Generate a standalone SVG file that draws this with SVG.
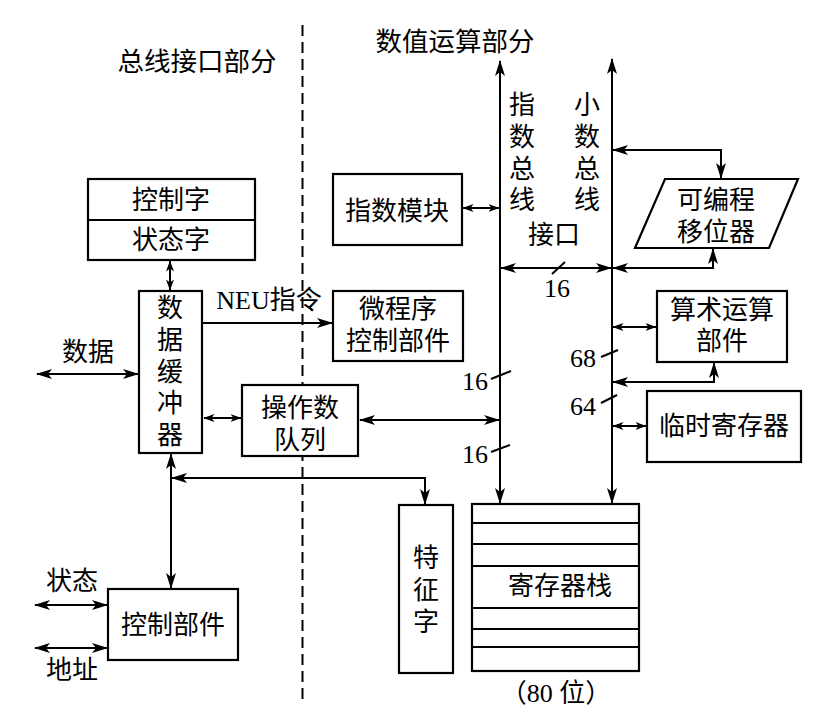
<svg xmlns="http://www.w3.org/2000/svg" width="832" height="720" viewBox="0 0 832 720">
<defs>
<marker id="ah" markerUnits="userSpaceOnUse" markerWidth="16" markerHeight="10" viewBox="0 0 16 10" refX="15" refY="5" orient="auto-start-reverse"><path d="M0,0 L16,5 L0,10 L4,5 z" fill="#000"/></marker>
<marker id="as" markerUnits="userSpaceOnUse" markerWidth="11" markerHeight="8" viewBox="0 0 11 8" refX="10.5" refY="4" orient="auto-start-reverse"><path d="M0,0 L11,4 L0,8 L3,4 z" fill="#000"/></marker>
</defs>
<style>
.b{fill:#fff;stroke:#000;stroke-width:2.2}
.c{fill:none;stroke:#000;stroke-width:2}
.d{marker-start:url(#ah);marker-end:url(#ah)}
.s{marker-start:url(#as);marker-end:url(#as)}
.e{marker-end:url(#ah)}
text{font-family:"Liberation Serif","Noto Sans CJK SC",serif;font-size:26px;fill:#000;text-anchor:middle;dominant-baseline:central}
.n{font-size:26px}
.t{font-size:26.5px}
</style>
<rect width="832" height="720" fill="#fff"/>
<line x1="302.5" y1="25" x2="302.5" y2="705" stroke="#000" stroke-width="2" stroke-dasharray="11 6"/>
<text class="t" x="197" y="62">总线接口部分</text>
<text class="t" x="455" y="42">数值运算部分</text>

<g id="ctrl-status">
<rect class="b" x="88" y="179" width="167" height="81"/>
<line class="c" x1="88" y1="220" x2="255" y2="220"/>
<text x="171" y="200">控制字</text>
<text x="171" y="240">状态字</text>
</g>
<g id="buffer">
<rect class="b" x="139" y="291" width="63" height="162"/>
<text x="170" y="308">数</text>
<text x="170" y="340">据</text>
<text x="170" y="372">缓</text>
<text x="170" y="403">冲</text>
<text x="170" y="435">器</text>
</g>
<g id="micro">
<rect class="b" x="333" y="291" width="130" height="70"/>
<text x="398" y="309">微程序</text>
<text x="398" y="341">控制部件</text>
</g>
<g id="queue">
<rect class="b" x="242" y="385" width="116" height="71"/>
<text x="300" y="408">操作数</text>
<text x="300" y="440">队列</text>
</g>
<g id="control">
<rect class="b" x="108" y="589" width="130" height="71"/>
<text x="173" y="625">控制部件</text>
</g>
<g id="exp-module">
<rect class="b" x="333" y="174" width="129" height="71"/>
<text x="397" y="211">指数模块</text>
</g>
<g id="shifter">
<polygon class="b" points="665,179 798,179 769,248 635,248"/>
<text x="716" y="200">可编程</text>
<text x="716" y="232">移位器</text>
</g>
<g id="alu">
<rect class="b" x="657" y="291" width="130" height="71"/>
<text x="722" y="310">算术运算</text>
<text x="722" y="341">部件</text>
</g>
<g id="temp">
<rect class="b" x="647" y="391" width="154" height="71"/>
<text x="724" y="426">临时寄存器</text>
</g>
<g id="flag">
<rect class="b" x="399" y="505" width="54" height="168"/>
<text x="426" y="558">特</text>
<text x="426" y="590">征</text>
<text x="426" y="622">字</text>
</g>
<g id="stack">
<rect class="b" x="472" y="504" width="167" height="167"/>
<line class="c" x1="472" y1="523" x2="639" y2="523"/>
<line class="c" x1="472" y1="544" x2="639" y2="544"/>
<line class="c" x1="472" y1="566" x2="639" y2="566"/>
<line class="c" x1="472" y1="608" x2="639" y2="608"/>
<line class="c" x1="472" y1="629" x2="639" y2="629"/>
<line class="c" x1="472" y1="647" x2="639" y2="647"/>
<text x="560" y="586">寄存器栈</text>
<text x="556" y="693">（80 位）</text>
</g>

<g id="labels">
<text x="522" y="105">指</text>
<text x="522" y="137">数</text>
<text x="522" y="169">总</text>
<text x="522" y="200">线</text>
<text x="587" y="105">小</text>
<text x="587" y="137">数</text>
<text x="587" y="169">总</text>
<text x="587" y="200">线</text>
<text x="554" y="235">接口</text>
<text x="269" y="300" class="n">NEU指令</text>
<text x="88" y="352">数据</text>
<text x="72" y="581">状态</text>
<text x="72" y="670">地址</text>
<text class="n" x="557" y="288">16</text>
<text class="n" x="475" y="381">16</text>
<text class="n" x="475" y="454">16</text>
<text class="n" x="583" y="358">68</text>
<text class="n" x="583" y="406">64</text>
</g>

<g id="connectors">
<line class="c s" x1="170" y1="261" x2="170" y2="290"/>
<line class="c e" x1="202" y1="323" x2="332" y2="323"/>
<line class="c d" x1="37" y1="374" x2="138" y2="374"/>
<line class="c s" x1="204" y1="418" x2="241" y2="418"/>
<line class="c d" x1="360" y1="420" x2="499" y2="420"/>
<line class="c d" x1="171" y1="454" x2="171" y2="588"/>
<path class="c d" d="M172,478 L425,478 L425,504"/>
<line class="c d" x1="500" y1="61" x2="500" y2="503"/>
<line class="c d" x1="612" y1="59" x2="612" y2="503"/>
<line class="c s" x1="463" y1="208" x2="499" y2="208"/>
<line class="c d" x1="501" y1="268" x2="611" y2="268"/>
<path class="c d" d="M613,150 L721,150 L721,178"/>
<path class="c d" d="M713,249 L713,268 L613,268"/>
<line class="c s" x1="613" y1="327" x2="656" y2="327"/>
<path class="c d" d="M714,363 L714,382 L613,382"/>
<line class="c s" x1="613" y1="426" x2="646" y2="426"/>
<line class="c d" x1="35" y1="605" x2="107" y2="605"/>
<line class="c d" x1="35" y1="648" x2="107" y2="648"/>
<line class="c" x1="552" y1="274" x2="565" y2="262"/>
<line class="c" x1="491" y1="379" x2="511" y2="371"/>
<line class="c" x1="491" y1="452" x2="510" y2="445"/>
<line class="c" x1="601" y1="357" x2="618" y2="350"/>
<line class="c" x1="601" y1="403" x2="617" y2="395"/>
</g>
</svg>
